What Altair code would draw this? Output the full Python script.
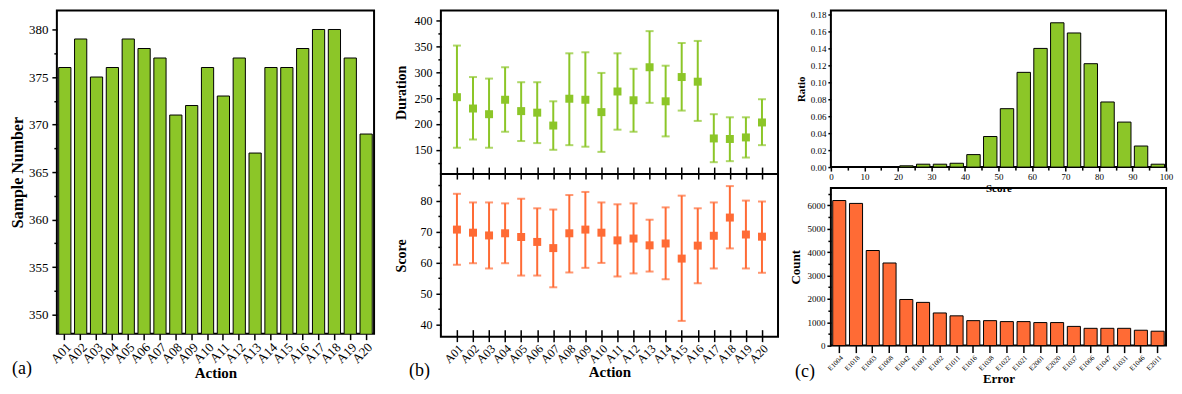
import altair as alt
import pandas as pd

SERIF = "Liberation Serif"
GREEN = "#8CC628"
ORANGE = "#FF6B35"

# ---------------- data ----------------
actions = [f"A{i:02d}" for i in range(1, 21)]
sample_counts = [376, 379, 375, 376, 379, 378, 377, 371, 372, 376,
                 373, 377, 367, 376, 376, 378, 380, 380, 377, 369]

dur_mean = [252, 230, 219, 247, 225, 222, 197, 249, 247, 223,
            263, 246, 310, 244, 291, 282, 172, 171, 174, 203]
dur_low = [154, 170, 154, 185, 167, 163, 150, 159, 156, 146,
           189, 185, 241, 176, 226, 206, 126, 128, 135, 159]
dur_high = [352, 291, 288, 310, 281, 281, 244, 337, 339, 299,
            337, 307, 380, 313, 357, 361, 219, 213, 213, 248]

score_mean = [70.7, 69.7, 68.8, 69.5, 68.3, 66.7, 64.7, 69.5, 70.7, 69.7,
              67.2, 67.8, 65.6, 66.2, 61.3, 65.5, 68.7, 74.6, 69.1, 68.4]
score_low = [59.3, 59.8, 58.1, 59.8, 55.8, 55.8, 52.0, 56.8, 58.3, 59.9,
             55.5, 56.5, 57.1, 54.6, 41.1, 53.3, 58.1, 64.6, 58.1, 56.7]
score_high = [82.3, 79.5, 79.5, 79.2, 80.7, 77.6, 77.2, 81.9, 82.9, 79.5,
              78.9, 79.2, 73.9, 77.9, 81.7, 77.6, 79.5, 84.8, 80.1, 79.8]

bin_start = [0, 5, 10, 15, 20, 25, 30, 35, 40, 45,
             50, 55, 60, 65, 70, 75, 80, 85, 90, 95]
ratio = [0, 0, 0, 0, 0.0015, 0.0034, 0.0034, 0.0045, 0.0147, 0.036,
         0.0688, 0.1116, 0.1398, 0.170, 0.158, 0.1218, 0.0767, 0.053, 0.0248, 0.0034]

errors = ["E1004", "E1018", "E1003", "E1008", "E1042", "E1001", "E1002", "E1011",
          "E1016", "E1038", "E1022", "E1021", "E2001", "E2020", "E1037", "E1006",
          "E1047", "E1031", "E1046", "E2011"]
error_counts = [6205, 6082, 4068, 3534, 1973, 1849, 1397, 1274, 1068, 1068,
                1027, 1027, 986, 986, 822, 740, 740, 740, 658, 616]


def cond_tick(test, major, minor):
    return {"condition": {"test": test, "value": major}, "value": minor}


def panel_label(text, x, y):
    return alt.Chart(pd.DataFrame({"t": [text]})).mark_text(
        align="left", baseline="middle", fontSize=18, font=SERIF, color="black"
    ).encode(text="t:N", x=alt.value(x), y=alt.value(y))


# ---------------- panel (a) ----------------
HA, WA = 324, 318
df_a = pd.DataFrame({"Action": actions, "Count": sample_counts})
ya_vals = [350 + 2.5 * i for i in range(13)]
bars_a = alt.Chart(df_a).mark_bar(color=GREEN, stroke="black", strokeWidth=1, clip=True).encode(
    x=alt.X("Action:N", sort=actions,
            scale=alt.Scale(paddingInner=0.23, paddingOuter=0.115),
            axis=alt.Axis(title="Action", labelAngle=-45, labelFontSize=13, tickSize=6,
                          labelPadding=1, titleFontSize=15, titleFontWeight="bold",
                          titlePadding=0)),
    y=alt.Y("Count:Q", scale=alt.Scale(domain=[348, 382], nice=False, zero=False),
            axis=alt.Axis(title="Sample Number", values=ya_vals,
                          labelExpr="datum.value % 5 == 0 ? format(datum.value, 'd') : ''",
                          tickSize=cond_tick("datum.value % 5 == 0", 5, 3),
                          labelFontSize=13, labelPadding=4, titleFontSize=16,
                          titleFontWeight="bold", titlePadding=3)),
)
panel_a = alt.layer(bars_a, panel_label("(a)", -45, HA + 35)).properties(width=WA, height=HA)

# ---------------- panel (b) ----------------
WB, HB1, HB2 = 338, 164, 163
df_b = pd.DataFrame({"Action": actions, "dmean": dur_mean, "dlow": dur_low, "dhigh": dur_high,
                     "smean": score_mean, "slow": score_low, "shigh": score_high})
xb_scale = alt.Scale(type="point", padding=1)


def errbar_panel(low, high, mean, color, x_axis, y_axis, y_scale, extra=None):
    base = alt.Chart(df_b).encode(
        x=alt.X("Action:N", sort=actions, scale=xb_scale, axis=x_axis))
    layers = [
        base.mark_rule(color=color, strokeWidth=2).encode(
            y=alt.Y(f"{low}:Q", scale=y_scale, axis=y_axis), y2=f"{high}:Q"),
        base.mark_tick(color=color, thickness=2, size=8).encode(
            y=alt.Y(f"{low}:Q", scale=y_scale, axis=y_axis)),
        base.mark_tick(color=color, thickness=2, size=8).encode(
            y=alt.Y(f"{high}:Q", scale=y_scale, axis=y_axis)),
        base.mark_square(color=color, size=64, opacity=1, filled=True).encode(
            y=alt.Y(f"{mean}:Q", scale=y_scale, axis=y_axis)),
    ]
    if extra is not None:
        layers.append(extra)
    return alt.layer(*layers)


xb_top_axis = alt.Axis(labels=False, title=None, tickSize=12, offset=-7, domain=False)
yd_axis = alt.Axis(title="Duration", values=[125 + 25 * i for i in range(12)],
                   labelExpr="datum.value % 50 == 0 ? format(datum.value, 'd') : ''",
                   tickSize=cond_tick("datum.value % 50 == 0", 5, 3),
                   labelFontSize=12, labelPadding=4, titleFontSize=14, titleFontWeight="bold",
                   titlePadding=5)
yd_scale = alt.Scale(domain=[103, 420], nice=False, zero=False)
top_b = errbar_panel("dlow", "dhigh", "dmean", GREEN, xb_top_axis, yd_axis, yd_scale
                     ).properties(width=WB, height=HB1)

xb_bot_axis = alt.Axis(title="Action", labelAngle=-45, labelFontSize=12, tickSize=12,
                       offset=-7, domain=False, labelPadding=1, titleFontSize=15,
                       titleFontWeight="bold", titlePadding=0)
ys_axis = alt.Axis(title="Score", values=[40 + 5 * i for i in range(10)],
                   labelExpr="datum.value % 10 == 0 ? format(datum.value, 'd') : ''",
                   tickSize=cond_tick("datum.value % 10 == 0", 5, 3),
                   labelFontSize=12, labelPadding=4, titleFontSize=14, titleFontWeight="bold",
                   titlePadding=11)
ys_scale = alt.Scale(domain=[36, 88.7], nice=False, zero=False)
bot_b = errbar_panel("slow", "shigh", "smean", ORANGE, xb_bot_axis, ys_axis, ys_scale,
                     extra=panel_label("(b)", -32, HB2 + 34)
                     ).properties(width=WB, height=HB2)

panel_b = alt.vconcat(top_b, bot_b, spacing=0, bounds="flush")

# ---------------- panel (c) ----------------
WC, HC1, HC2 = 336, 157, 158
df_h = pd.DataFrame({"start": bin_start, "ratio": ratio})
hist = alt.Chart(df_h).transform_calculate(
    x0="datum.start + 0.55", x1="datum.start + 4.55", base="0"
).mark_bar(color=GREEN, stroke="black", strokeWidth=1).encode(
    x=alt.X("x0:Q", scale=alt.Scale(domain=[0, 100], nice=False),
            axis=alt.Axis(title="Score", values=[5 * i for i in range(21)],
                          labelExpr="datum.value % 10 == 0 ? format(datum.value, 'd') : ''",
                          tickSize=cond_tick("datum.value % 10 == 0", 4, 3),
                          labelFontSize=9, labelPadding=1, titleFontSize=11,
                          titleFontWeight="bold", titlePadding=1)),
    x2="x1:Q",
    y=alt.Y("ratio:Q", scale=alt.Scale(domain=[0, 0.1845], nice=False),
            axis=alt.Axis(title="Ratio", values=[round(0.02 * i, 2) for i in range(10)],
                          format=".2f", tickSize=3, labelFontSize=9, labelPadding=2,
                          titleFontSize=11, titleFontWeight="bold", titlePadding=4)),
    y2="base:Q",
).properties(width=WC, height=HC1)

df_e = pd.DataFrame({"Error": errors, "Count": error_counts})
ebars = alt.Chart(df_e).mark_bar(color=ORANGE, stroke="black", strokeWidth=1).encode(
    x=alt.X("Error:N", sort=errors, scale=alt.Scale(paddingInner=0.22, paddingOuter=0.11),
            axis=alt.Axis(title="Error", labelAngle=-45, labelFontSize=7, tickSize=7,
                          labelPadding=1, titleFontSize=13, titleFontWeight="bold",
                          titlePadding=1)),
    y=alt.Y("Count:Q", scale=alt.Scale(domain=[0, 6740], nice=False),
            axis=alt.Axis(title="Count", values=[500 * i for i in range(14)],
                          labelExpr="datum.value % 1000 == 0 ? format(datum.value, 'd') : ''",
                          tickSize=cond_tick("datum.value % 1000 == 0", 4, 3),
                          labelFontSize=9, labelPadding=2, titleFontSize=13,
                          titleFontWeight="bold", titlePadding=4)),
)
bot_c = alt.layer(ebars, panel_label("(c)", -36, HC2 + 26)).properties(width=WC, height=HC2)

panel_c = alt.vconcat(hist, bot_c, spacing=21, bounds="flush")

inner = alt.hconcat(panel_a, panel_b, spacing=18)
chart = alt.hconcat(inner, panel_c, spacing=10).properties(
    padding=0, background="white"
).configure_view(
    stroke="black", strokeWidth=2
).configure_axis(
    labelFont=SERIF, titleFont=SERIF, labelColor="black", titleColor="black",
    tickColor="black", tickWidth=1.5, domain=False, grid=False, labelOverlap=False,
    labelFlush=False
)

chart.save("out.html", embed_options={"renderer": "svg", "actions": False})
